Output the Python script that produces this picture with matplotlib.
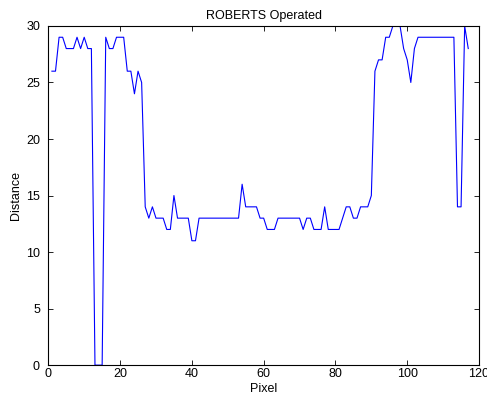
import numpy as np
import matplotlib
matplotlib.use("Agg")
import matplotlib.pyplot as plt

plt.rcParams['font.family'] = ['Liberation Sans', 'DejaVu Sans']
plt.rcParams['font.size'] = 9

# distance profile per pixel
pixel = list(range(1, 118))
distance = [26, 26, 29, 29, 28, 28, 28, 29, 28, 29,
            28, 28, 0, 0, 0, 29, 28, 28, 29, 29,
            29, 26, 26, 24, 26, 25, 14, 13, 14, 13,
            13, 13, 12, 12, 15, 13, 13, 13, 13, 11,
            11, 13, 13, 13, 13, 13, 13, 13, 13, 13,
            13, 13, 13, 16, 14, 14, 14, 14, 13, 13,
            12, 12, 12, 13, 13, 13, 13, 13, 13, 13,
            12, 13, 13, 12, 12, 12, 14, 12, 12, 12,
            12, 13, 14, 14, 13, 13, 14, 14, 14, 15,
            26, 27, 27, 29, 29, 30, 30, 30, 28, 27,
            25, 28, 29, 29, 29, 29, 29, 29, 29, 29,
            29, 29, 29, 14, 14, 30, 28]

fig = plt.figure(figsize=(4.87, 4.03), dpi=100)
ax = fig.add_axes([0.0992, 0.094, 0.8844, 0.8416])
ax.plot(pixel, distance, color='#0000ff', lw=0.8)

ax.set_xlim(0, 120)
ax.set_ylim(0, 30)
ax.set_xticks(np.arange(0, 121, 20))
ax.set_yticks(np.arange(0, 31, 5))
ax.tick_params(direction='in', length=3.6, width=0.6, top=True, right=True)
ax.tick_params(axis='x', pad=2)
ax.tick_params(axis='y', pad=6)
for s in ax.spines.values():
    s.set_linewidth(0.8)

ax.set_xlabel("Pixel", labelpad=2)
ax.set_ylabel("Distance", labelpad=3)
ax.set_title("ROBERTS Operated", fontsize=9, pad=5)

fig.savefig("out.png", dpi=100)
